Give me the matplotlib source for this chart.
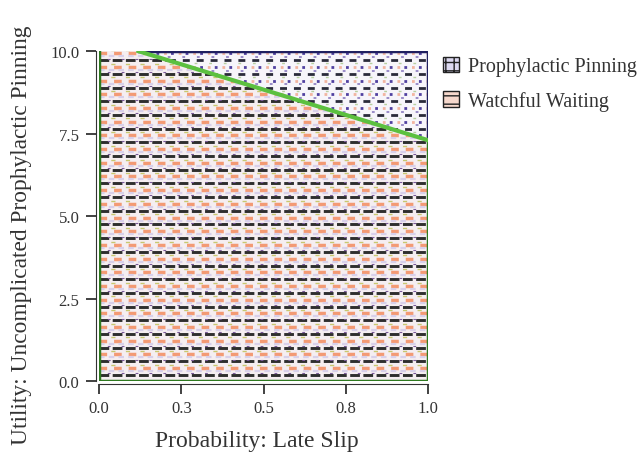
import numpy as np
import matplotlib
matplotlib.use('Agg')
import matplotlib.pyplot as plt
from matplotlib.patches import Patch

plt.rcParams['font.family'] = ['Liberation Serif', 'DejaVu Serif']
plt.rcParams['lines.scale_dashes'] = False

# threshold line between the two strategies
thresh_x = [0.0, 0.12, 1.0]
thresh_y = [10.0, 10.0, 7.3]
y_top = 10.0

strategies = ['Prophylactic Pinning', 'Watchful Waiting']
x_ticks = [0.0, 0.25, 0.5, 0.75, 1.0]
x_labels = ['0.0', '0.3', '0.5', '0.8', '1.0']
y_ticks = [0.0, 2.5, 5.0, 7.5, 10.0]
y_labels = ['0.0', '2.5', '5.0', '7.5', '10.0']

fig = plt.figure(figsize=(6.43, 4.6), dpi=100)
ax = fig.add_axes([0.154, 0.1696, 0.5117, 0.717])
ax.set_xlim(0, 1)
ax.set_ylim(0, 10)

# regions
ww = ax.fill_between(thresh_x, 0, thresh_y, facecolor='#f5eef1', edgecolor='none', zorder=1)
pp = ax.fill_between(thresh_x, thresh_y, y_top, facecolor='#f7f5fa', edgecolor='none', zorder=1)
ww_clip = ww.get_paths()[0]
pp_clip = pp.get_paths()[0]

# stripe texture
stripes = np.arange(0.18, 10.0, 0.415)


def rows(ys, color, lw, dashes, clip):
    lc = ax.hlines(ys, 0, 1, colors=color, linewidth=lw, linestyles=[dashes], zorder=2)
    lc.set_clip_path(clip, ax.transData)


# watchful waiting texture
rows(stripes, '#2e2e2e', 2.1, (0, (7, 2.5)), ww_clip)
rows(stripes + 0.05, '#7a5a9a', 0.8, (4, (2, 8)), ww_clip)
rows(stripes + 0.21, '#f39a74', 2.5, (0, (5.5, 5)), ww_clip)
rows(stripes + 0.31, '#c8c870', 1.0, (2, (3, 7.5)), ww_clip)
rows(stripes + 0.12, '#d8d0ea', 1.6, (0, (4, 3)), ww_clip)

# prophylactic pinning texture
rows(stripes, '#2a2a3a', 2.0, (0, (5, 5)), pp_clip)
rows(stripes + 0.21, '#5040a0', 2.0, (1, (2, 8.5)), pp_clip)
rows(stripes + 0.21, '#f2b4a0', 2.0, (6, (2, 8.5)), pp_clip)
rows(stripes + 0.1, '#8a7ac0', 1.2, (3, (2, 8.5)), pp_clip)
rows(stripes + 0.32, '#b8d0a0', 1.0, (5, (2, 8.5)), pp_clip)

# outlines
ax.plot(thresh_x[1:], thresh_y[1:], color='#5cc040', linewidth=3, zorder=4)
ax.plot([1, 1, 0.12], [thresh_y[-1], y_top, y_top], color='#202060', linewidth=2.5, zorder=3)
ax.plot([0, 0, 1, 1], [y_top, 0, 0, thresh_y[-1]], color='#2f7a20', linewidth=2.5, zorder=3)

for s in ['top', 'right']:
    ax.spines[s].set_visible(False)
ax.spines['left'].set_position(('outward', 2))
ax.spines['bottom'].set_position(('outward', 2))
ax.spines['left'].set_color('#333333')
ax.spines['bottom'].set_color('#333333')

ax.set_xticks(x_ticks)
ax.set_xticklabels(x_labels)
ax.set_yticks(y_ticks)
ax.set_yticklabels(y_labels)
ax.tick_params(direction='out', length=7, width=1.3, colors='#333333', labelsize=12, pad=5)

ax.set_xlabel('Probability: Late Slip', fontsize=17, color='#333333')
ax.set_ylabel('Utility: Uncomplicated Prophylactic Pinning', fontsize=16.8, color='#333333')
ax.xaxis.set_label_coords(0.48, -0.15)
ax.yaxis.set_label_coords(-0.205, 0.445)

handles = [Patch(facecolor='#dcd8f0', edgecolor='#222222', hatch='++', label=strategies[0]),
           Patch(facecolor='#f6d8cc', edgecolor='#222222', hatch='--', label=strategies[1])]
fig.legend(handles=handles, loc='upper left', bbox_to_anchor=(0.677, 0.892), frameon=False,
           fontsize=14.5, handlelength=0.8, handleheight=0.8, handletextpad=0.4,
           labelspacing=0.72, labelcolor='#333333', borderaxespad=0)

fig.savefig('out.png', dpi=100)
